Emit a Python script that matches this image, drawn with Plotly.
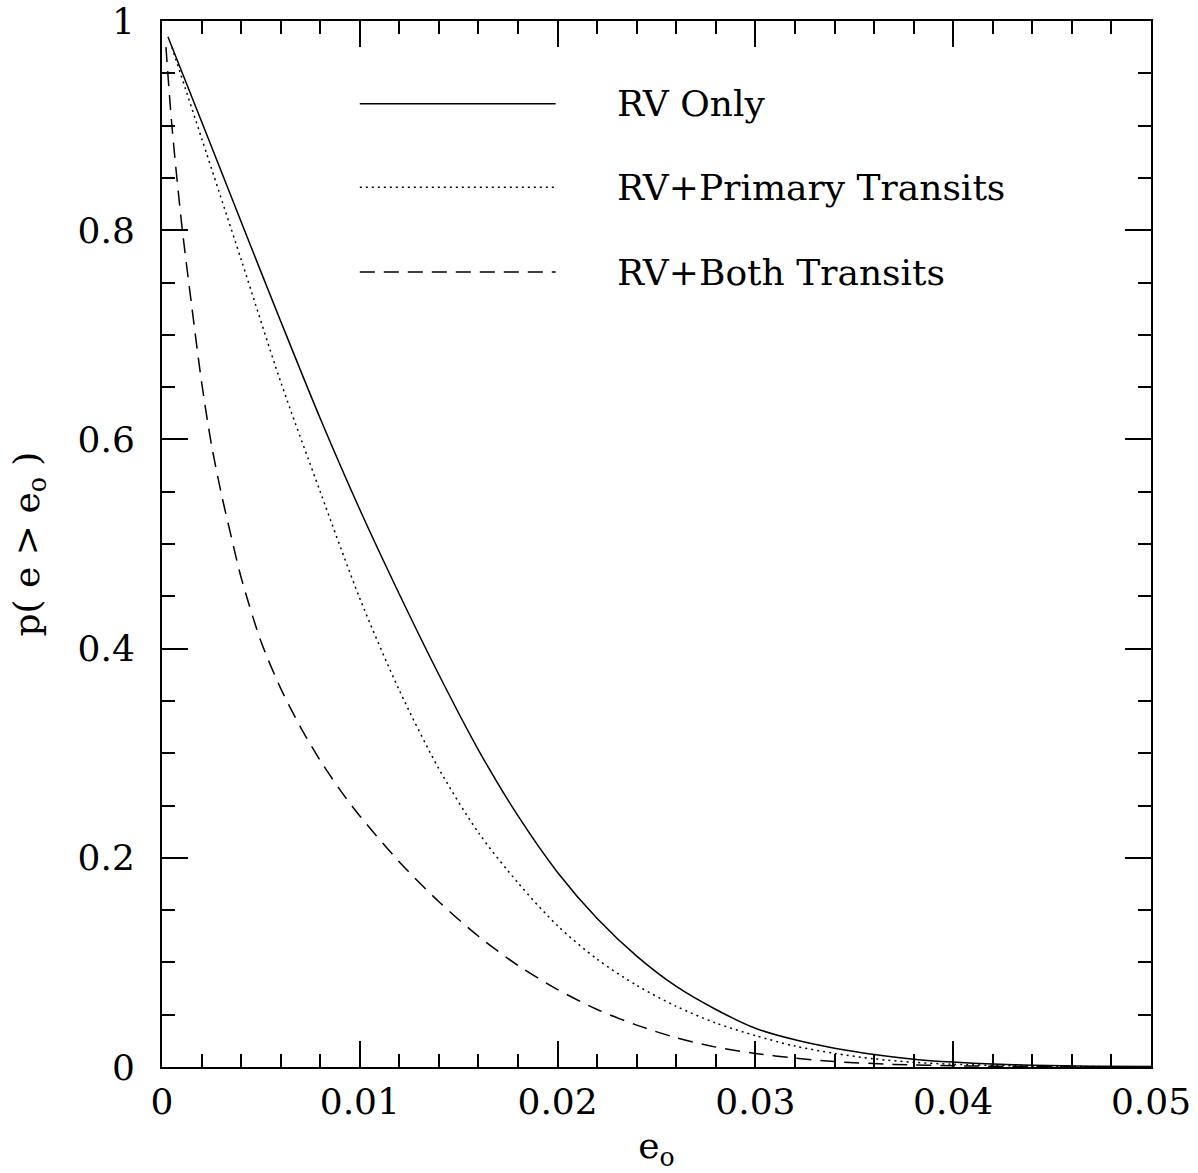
import plotly.graph_objects as go

# RV Only (solid)
e_rv = [0.0003, 0.002, 0.004, 0.006, 0.008, 0.010, 0.012, 0.014, 0.016, 0.018,
        0.020, 0.022, 0.024, 0.026, 0.028, 0.030, 0.032, 0.034, 0.036, 0.038,
        0.040, 0.042, 0.044, 0.047, 0.050]
p_rv = [0.985, 0.904, 0.808, 0.713, 0.620, 0.533, 0.452, 0.375, 0.303, 0.240,
        0.186, 0.142, 0.106, 0.077, 0.055, 0.037, 0.026, 0.018, 0.012, 0.0075,
        0.0047, 0.0028, 0.0017, 0.0008, 0.0004]

# RV + Primary Transits (dotted)
e_pt = [0.0005, 0.002, 0.004, 0.006, 0.008, 0.010, 0.012, 0.014, 0.016, 0.018,
        0.020, 0.022, 0.024, 0.026, 0.028, 0.030, 0.032, 0.034, 0.036, 0.038,
        0.040, 0.043, 0.046, 0.050]
p_pt = [0.975, 0.888, 0.772, 0.655, 0.550, 0.448, 0.360, 0.285, 0.224, 0.176,
        0.135, 0.103, 0.078, 0.058, 0.042, 0.030, 0.020, 0.013, 0.0078, 0.0045,
        0.0026, 0.0012, 0.0005, 0.0002]

# RV + Both Transits (dashed)
e_bt = [0.0002, 0.0005, 0.0010, 0.0015, 0.0020, 0.0025, 0.0030, 0.0035, 0.0040, 0.0050,
        0.0060, 0.0070, 0.0080, 0.0090, 0.0100, 0.0120, 0.0140, 0.0160, 0.0180, 0.0200,
        0.0220, 0.0240, 0.0260, 0.0280, 0.0300, 0.0320, 0.0340, 0.0370, 0.0400, 0.0450,
        0.0500]
p_bt = [0.975, 0.900, 0.805, 0.728, 0.655, 0.595, 0.548, 0.507, 0.468, 0.407,
        0.362, 0.325, 0.293, 0.265, 0.240, 0.196, 0.158, 0.125, 0.097, 0.074,
        0.055, 0.040, 0.028, 0.019, 0.013, 0.0085, 0.0052, 0.0025, 0.0012, 0.0004,
        0.0001]

series_names = ["RV Only", "RV+Primary Transits", "RV+Both Transits"]
x_ticks = [0, 0.01, 0.02, 0.03, 0.04, 0.05]
x_ticklabels = ["0", "0.01", "0.02", "0.03", "0.04", "0.05"]
y_ticks = [0, 0.2, 0.4, 0.6, 0.8, 1.0]
y_ticklabels = ["0", "0.2", "0.4", "0.6", "0.8", "1"]

# legend sample positions (data units)
leg_x0, leg_x1, leg_xt = 0.0100, 0.0199, 0.0229
leg_y = [0.921, 0.841, 0.760]

FONT = "DejaVu Serif"
FS = 36
dashes = ["solid", "2px,4px", "15px,9px"]

fig = go.Figure()
for xs, ys, name, d in zip([e_rv, e_pt, e_bt], [p_rv, p_pt, p_bt], series_names, dashes):
    fig.add_trace(go.Scatter(x=xs, y=ys, mode="lines", name=name,
                             line=dict(color="black", width=1.5, dash=d, shape="spline", smoothing=0.8),
                             showlegend=False))

for name, d, yy in zip(series_names, dashes, leg_y):
    fig.add_shape(type="line", xref="x", yref="y", x0=leg_x0, x1=leg_x1, y0=yy, y1=yy,
                  line=dict(color="black", width=1.5, dash=d))
    fig.add_annotation(xref="x", yref="y", x=leg_xt, y=yy, text=name, showarrow=False,
                       xanchor="left", yanchor="middle",
                       font=dict(family=FONT, size=FS, color="black"))

axis_common = dict(showline=True, linewidth=2, linecolor="black", mirror="ticks",
                   ticks="inside", ticklen=26, tickwidth=1.5, tickcolor="black",
                   showgrid=False, zeroline=False, automargin=False,
                   tickfont=dict(family=FONT, size=FS, color="black"))

fig.update_xaxes(range=[0, 0.05], tickmode="array", tickvals=x_ticks, ticktext=x_ticklabels,
                 minor=dict(ticks="inside", dtick=0.002, tick0=0, ticklen=13, tickwidth=1.5,
                            tickcolor="black", showgrid=False),
                 title=dict(text="e<sub>o</sub>", font=dict(family=FONT, size=FS, color="black"), standoff=12),
                 ticklabelstandoff=2,
                 **axis_common)
fig.update_yaxes(range=[0, 1], tickmode="array", tickvals=y_ticks, ticktext=y_ticklabels,
                 minor=dict(ticks="inside", dtick=0.05, tick0=0, ticklen=13, tickwidth=1.5,
                            tickcolor="black", showgrid=False),
                 title=dict(text="p( e > e<sub>o</sub> )", font=dict(family=FONT, size=FS, color="black"), standoff=27),
                 ticklabelstandoff=18,
                 **axis_common)

fig.update_layout(width=1198, height=1173, margin=dict(l=162, r=47, t=21, b=106),
                  paper_bgcolor="white", plot_bgcolor="white", showlegend=False)

fig.write_html("out.html", config={"displayModeBar": False},
               post_script="document.body.style.margin='0';document.body.style.overflow='hidden';")
